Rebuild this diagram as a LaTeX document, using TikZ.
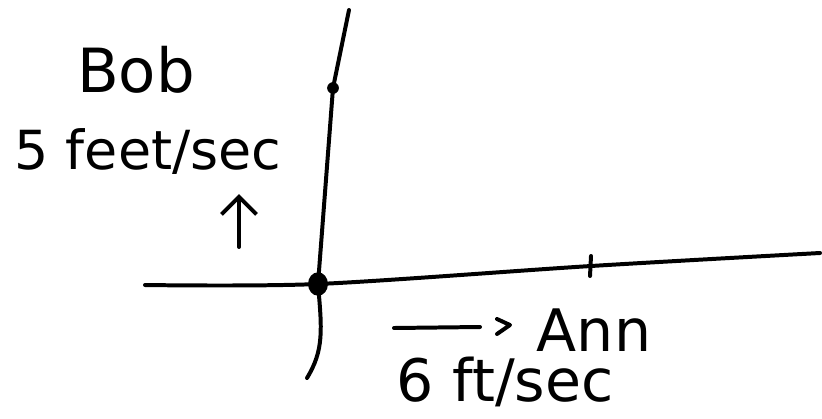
\documentclass[tikz,border=0pt]{standalone}
\usepackage{fontspec}
\setmainfont{DejaVu Sans}
\usetikzlibrary{arrows.meta,positioning}

\begin{document}
\begin{tikzpicture}[
  x=0.03cm, y=-0.03cm,
  pen/.style={line width=3.4pt, line cap=round, line join=round},
  hand/.style={font=\fontsize{46}{50}\selectfont, inner sep=0pt},
  uparrow/.style={pen, -{Straight Barb[length=15pt, width=30pt, line width=3.4pt]}}
]
\useasboundingbox (0,0) rectangle (822,418);

% axes
\coordinate (origin) at (318,284);
\coordinate (bobpt) at (333,88);
\coordinate (annpt) at (591,266);
\draw[pen] (349,10) -- (bobpt) -- (origin) .. controls (322,330) and (324,350) .. (307,378);
\draw[pen] plot[smooth] coordinates {(145,285) (origin) (annpt) (820,253)};
\fill (bobpt) circle (5pt);
\fill (origin) ellipse (8.5pt and 10pt);
\draw[pen] (annpt) ++(0,-10) -- ++(-1,20);

% Bob
\node[hand, font=\fontsize{52}{56}\selectfont] (bob) at (136,70) {Bob};
\node[hand] (bobspeed) at (148,152) {5 feet/sec};
\coordinate (bobtail) at (239,247);
\coordinate (bobhead) at (239,194);
\draw[uparrow] (bobtail) -- (bobhead);

% Ann
\coordinate (anntail) at (394,328);
\coordinate (annhead) at (480,327);
\draw[pen] (anntail) -- (annhead);
\draw[pen] (497,319) -- (510,325) -- (497,334);
\node[hand, font=\fontsize{50}{54}\selectfont] (ann) at (594,330) {Ann};
\node[hand, font=\fontsize{50}{54}\selectfont] (annspeed) at (505,382) {6 ft/sec};
\end{tikzpicture}
\end{document}
